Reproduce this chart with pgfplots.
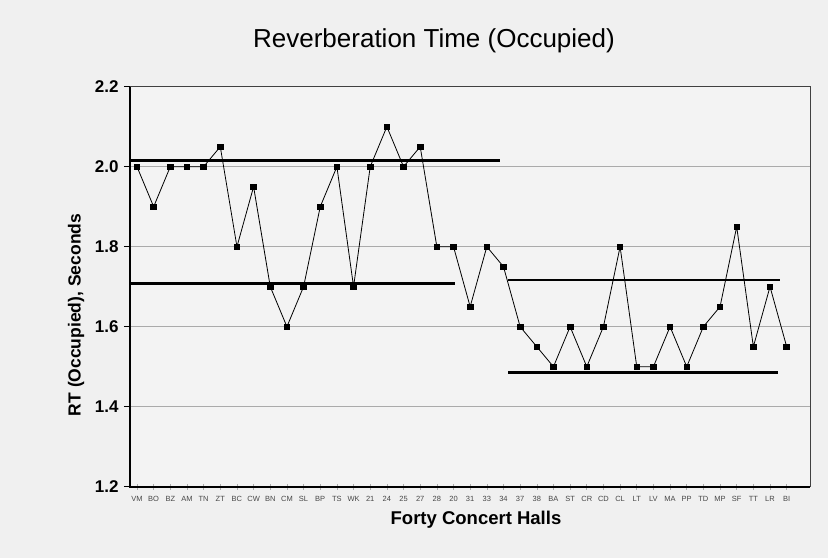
\documentclass[border=0pt]{standalone}
\usepackage{pgfplots}
\pgfplotsset{compat=1.18}
\usepackage{fontspec}
\setmainfont{Liberation Sans}
\definecolor{pagebg}{RGB}{240,240,240}
\definecolor{plotbg}{RGB}{243,243,243}
\definecolor{gridc}{RGB}{170,170,170}
\definecolor{ticklab}{RGB}{70,70,70}
\pgfplotstableread{
x y
0 2.00
1 1.90
2 2.00
3 2.00
4 2.00
5 2.05
6 1.80
7 1.95
8 1.70
9 1.60
10 1.70
11 1.90
12 2.00
13 1.70
14 2.00
15 2.10
16 2.00
17 2.05
18 1.80
19 1.80
20 1.65
21 1.80
22 1.75
23 1.60
24 1.55
25 1.50
26 1.60
27 1.50
28 1.60
29 1.80
30 1.50
31 1.50
32 1.60
33 1.50
34 1.60
35 1.65
36 1.85
37 1.55
38 1.70
39 1.55
}\halls
\begin{document}
\begin{tikzpicture}[x=1pt,y=1pt]
\fill[pagebg] (-130,-71.3) rectangle (698,486.7);
\useasboundingbox (-130,-71.3) rectangle (698,486.7);
\begin{axis}[at={(0,0)}, anchor=south west, scale only axis,
  width=680pt, height=400pt,
  xmin=-0.42, xmax=40.4, ymin=1.2, ymax=2.2,
  axis background/.style={fill=plotbg},
  axis line style={black!75, line width=0.8pt},
  tick pos=left,
  ytick={1.2,1.4,1.6,1.8,2.0,2.2},
  yticklabels={1.2,1.4,1.6,1.8,2.0,2.2},
  ymajorgrids, grid style={gridc, line width=0.6pt},
  xtick={0,...,39},
  xticklabels={VM,BO,BZ,AM,TN,ZT,BC,CW,BN,CM,SL,BP,TS,WK,21,24,25,27,28,20,31,33,34,37,38,BA,ST,CR,CD,CL,LT,LV,MA,PP,TD,MP,SF,TT,LR,BI},
  xticklabel style={font=\fontsize{7.5}{8}\selectfont, text=ticklab, yshift=-3pt},
  yticklabel style={font=\fontsize{17}{17}\selectfont\bfseries, xshift=-2pt},
  y tick style={black, line width=0.8pt},
  x tick style={gridc, line width=0.6pt},
  ytick align=outside, xtick align=center,
  major tick length=6pt,
  clip=false,
]
\addplot[black, line width=0.8pt, mark=square*, mark size=2.8pt, mark options={black}] table[x=x,y=y] {\halls};
\addplot[black, line width=2.6pt] coordinates {(-0.42,2.015) (21.8,2.015)};
\addplot[black, line width=2.6pt] coordinates {(-0.42,1.708) (19.1,1.708)};
\addplot[black, line width=2.6pt] coordinates {(22.3,1.717) (38.6,1.717)};
\addplot[black, line width=2.6pt] coordinates {(22.3,1.486) (38.5,1.486)};
\draw[black, line width=1.8pt] (rel axis cs:0,1) -- (rel axis cs:0,0) -- (rel axis cs:1,0);
\end{axis}
\node[font=\fontsize{26}{26}\selectfont] at (304,445.7) {Reverberation Time (Occupied)};
\node[font=\fontsize{18.5}{18.5}\selectfont\bfseries] at (346,-33.3) {Forty Concert Halls};
\node[font=\fontsize{17.5}{17.5}\selectfont\bfseries, rotate=90] at (-54,171.7) {RT (Occupied), Seconds};
\end{tikzpicture}
\end{document}
